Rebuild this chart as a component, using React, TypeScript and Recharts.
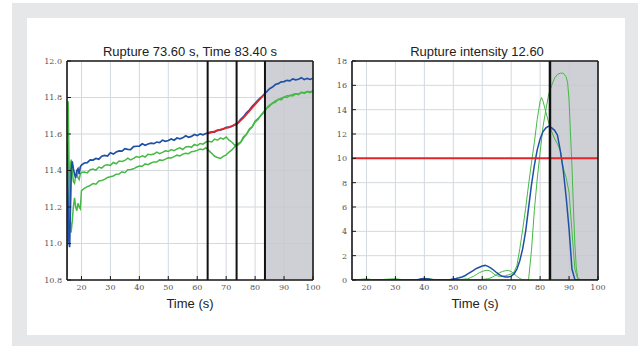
import React from 'react';
import { LineChart, Line, XAxis, YAxis, CartesianGrid, ReferenceArea, ReferenceLine } from 'recharts';

// ---------- data ----------
const xTicks = [20, 30, 40, 50, 60, 70, 80, 90, 100];
const leftYTicks = [10.8, 11.0, 11.2, 11.4, 11.6, 11.8, 12.0];
const rightYTicks = [0, 2, 4, 6, 8, 10, 12, 14, 16, 18];
const markerTimes = [63.6, 73.6, 83.4];
const currentTime = 83.4;
const endTime = 100;
const intensityThreshold = 10;
const leftTitle = 'Rupture 73.60 s, Time 83.40 s';
const rightTitle = 'Rupture intensity 12.60';
const xLabel = 'Time (s)';

const blueLeft: [number, number][] = [
  [15, 11.55], [15.3, 11.28], [15.6, 11.02], [15.9, 10.98], [16.2, 11.2], [16.5, 11.41], [16.8, 11.45],
  [17.2, 11.41], [17.6, 11.38], [18, 11.36], [18.4, 11.4], [18.8, 11.41], [19.2, 11.38], [19.6, 11.42],
  [20, 11.43], [21, 11.441], [22, 11.443], [23, 11.458], [24, 11.457], [25, 11.466], [26, 11.462],
  [27, 11.478], [28, 11.483], [29, 11.479], [30, 11.497], [31, 11.49], [32, 11.501], [33, 11.507],
  [34, 11.506], [35, 11.52], [36, 11.516], [37, 11.514], [38, 11.531], [39, 11.533], [40, 11.534],
  [41, 11.546], [42, 11.538], [43, 11.545], [44, 11.55], [45, 11.547], [46, 11.556], [47, 11.553],
  [48, 11.566], [49, 11.56], [50, 11.564], [51, 11.573], [52, 11.566], [53, 11.578], [54, 11.574],
  [55, 11.579], [56, 11.59], [57, 11.582], [58, 11.587], [59, 11.597], [60, 11.592], [61, 11.601],
  [62, 11.596], [63, 11.603], [64, 11.608], [65, 11.612], [66, 11.61], [67, 11.622], [68, 11.623],
  [69, 11.626], [70, 11.637], [71, 11.636], [72, 11.642], [73, 11.652], [74, 11.66], [75, 11.68],
  [76, 11.695], [77, 11.716], [78, 11.731], [79, 11.752], [80, 11.768], [81, 11.786], [82, 11.8],
  [83, 11.815], [84, 11.832], [85, 11.848], [86, 11.857], [87, 11.871], [88, 11.876], [89, 11.886],
  [90, 11.887], [91, 11.894], [92, 11.891], [93, 11.902], [94, 11.897], [95, 11.9], [96, 11.908],
  [97, 11.898], [98, 11.905], [99, 11.899], [100, 11.906],
];

const greenUpperLeft: [number, number][] = [
  [15, 11.5], [15.3, 11.22], [15.6, 11.12], [15.9, 11.28], [16.2, 11.44], [16.5, 11.46], [16.8, 11.4],
  [17.2, 11.34], [17.6, 11.33], [18, 11.37], [18.4, 11.39], [18.8, 11.36], [19.2, 11.35], [19.6, 11.38],
  [20, 11.39], [21, 11.392], [22, 11.387], [23, 11.404], [24, 11.408], [25, 11.402], [26, 11.419],
  [27, 11.413], [28, 11.428], [29, 11.432], [30, 11.428], [31, 11.444], [32, 11.437], [33, 11.452],
  [34, 11.449], [35, 11.455], [36, 11.468], [37, 11.458], [38, 11.466], [39, 11.476], [40, 11.472],
  [41, 11.481], [42, 11.474], [43, 11.489], [44, 11.486], [45, 11.49], [46, 11.501], [47, 11.492],
  [48, 11.499], [49, 11.508], [50, 11.504], [51, 11.515], [52, 11.509], [53, 11.518], [54, 11.524],
  [55, 11.515], [56, 11.529], [57, 11.531], [58, 11.527], [59, 11.543], [60, 11.536], [61, 11.548],
  [62, 11.544], [63, 11.556], [64, 11.56], [65, 11.556], [66, 11.572], [67, 11.566], [68, 11.579],
  [69, 11.572], [70, 11.583], [71, 11.566], [72, 11.555], [73, 11.538], [74, 11.547], [75, 11.556],
  [76, 11.585], [77, 11.598], [78, 11.628], [79, 11.64], [80, 11.671], [81, 11.684], [82, 11.703],
  [83, 11.722], [84, 11.742], [85, 11.758], [86, 11.768], [87, 11.781], [88, 11.788], [89, 11.796],
  [90, 11.802], [91, 11.81], [92, 11.809], [93, 11.817], [94, 11.821], [95, 11.819], [96, 11.829],
  [97, 11.826], [98, 11.833], [99, 11.831], [100, 11.838],
];

const greenLowerLeft: [number, number][] = [
  [15, 10.82], [15.2, 11.4], [15.4, 11.78], [15.7, 11.45], [16, 11.15], [16.4, 11.06], [16.8, 11.12],
  [17.2, 11.2], [17.6, 11.25], [18, 11.2], [18.4, 11.18], [18.8, 11.22], [19.2, 11.2], [19.6, 11.19],
  [20, 11.29], [21, 11.302], [22, 11.312], [23, 11.318], [24, 11.329], [25, 11.325], [26, 11.343],
  [27, 11.345], [28, 11.351], [29, 11.362], [30, 11.366], [31, 11.37], [32, 11.38], [33, 11.381],
  [34, 11.393], [35, 11.388], [36, 11.404], [37, 11.406], [38, 11.409], [39, 11.418], [40, 11.424],
  [41, 11.423], [42, 11.436], [43, 11.432], [44, 11.441], [45, 11.447], [46, 11.446], [47, 11.458],
  [48, 11.455], [49, 11.462], [50, 11.47], [51, 11.469], [52, 11.476], [53, 11.484], [54, 11.48],
  [55, 11.49], [56, 11.494], [57, 11.492], [58, 11.503], [59, 11.505], [60, 11.51], [61, 11.518],
  [62, 11.514], [63, 11.525], [64, 11.509], [65, 11.494], [66, 11.478], [67, 11.471], [68, 11.466],
  [69, 11.477], [70, 11.486], [71, 11.501], [72, 11.513], [73, 11.531], [74, 11.539], [75, 11.553],
  [76, 11.578], [77, 11.598], [78, 11.622], [79, 11.64], [80, 11.665], [81, 11.68], [82, 11.702],
  [83, 11.718], [84, 11.74], [85, 11.752], [86, 11.77], [87, 11.774], [88, 11.79], [89, 11.787],
  [90, 11.803], [91, 11.8], [92, 11.812], [93, 11.808], [94, 11.82], [95, 11.816], [96, 11.828],
  [97, 11.822], [98, 11.832], [99, 11.827], [100, 11.835],
];

const redFitLeft: [number, number][] = [
  [63.6, 11.602], [66, 11.614], [68.6, 11.627], [71, 11.638], [73.6, 11.653],
  [76, 11.69], [78.5, 11.735], [81, 11.78], [83.4, 11.822],
];

const blueRight: [number, number][] = [
  [15, 0], [20, 0], [25, 0], [30, 0], [35, 0], [37, 0], [38, 0.05], [39, 0.1], [40, 0.13], [41, 0.1],
  [42, 0.06], [43, 0.03], [45, 0.02], [47, 0.03], [49, 0.05], [50, 0.08], [51, 0.12], [52, 0.18],
  [53, 0.25], [54, 0.35], [55, 0.5], [56, 0.65], [57, 0.8], [58, 0.95], [59, 1.05], [60, 1.15],
  [61, 1.2], [62, 1.12], [63, 0.98], [64, 0.8], [65, 0.6], [66, 0.42], [67, 0.3], [68, 0.25],
  [69, 0.25], [70, 0.32], [71, 0.5], [72, 0.9], [73, 1.6], [74, 2.6], [75, 4.0], [76, 5.9],
  [77, 7.8], [78, 9.4], [79, 10.7], [80, 11.6], [81, 12.2], [82, 12.5], [83, 12.65], [84, 12.5],
  [85, 12.3], [86, 11.9], [87, 10.6], [88, 9.0], [89, 6.8], [90, 4.2], [91, 0.9], [92, 0.05],
  [93, 0], [100, 0],
];

const greenRightA: [number, number][] = [
  [15, 0.02], [18, 0.05], [20, 0.1], [22, 0.02], [25, 0.03], [28, 0.08], [30, 0.1], [32, 0.04],
  [35, 0.02], [38, 0.04], [40, 0.1], [41, 0.12], [43, 0.05], [46, 0.03], [50, 0.02], [53, 0.05],
  [55, 0.1], [56, 0.2], [57, 0.3], [58, 0.45], [59, 0.6], [60, 0.7], [61, 0.78], [62, 0.8],
  [63, 0.7], [64, 0.5], [65, 0.35], [66, 0.3], [67, 0.3], [68, 0.35], [69, 0.42], [70, 0.5],
  [71, 0.65], [72, 1.2], [73, 2.6], [74, 4.2], [75, 5.9], [76, 7.8], [77, 9.6], [78, 11.3],
  [79, 13.2], [80, 14.7], [80.5, 15.0], [81, 14.7], [82, 13.8], [83, 12.9], [84, 12.2], [85, 11.6],
  [86, 11.2], [87, 10.6], [88, 9.2], [89, 8.4], [90, 7.2], [91, 4.0], [92, 0.9], [93, 0.1],
  [94, 0], [100, 0],
];

const greenRightB: [number, number][] = [
  [15, 0], [30, 0.02], [45, 0], [55, 0.02], [60, 0.05], [62, 0.1], [63, 0.18], [64, 0.3],
  [65, 0.45], [66, 0.6], [67, 0.7], [68, 0.76], [69, 0.78], [70, 0.7], [71, 0.5], [72, 0.3],
  [73, 0.12], [74, 0.02], [75, 0], [76, 0], [77, 2.4], [78, 5.7], [79, 8.3], [80, 10.5],
  [81, 12.6], [82, 14.0], [83, 15.3], [84, 16.0], [85, 16.6], [86, 16.9], [87, 17.0], [88, 17.0],
  [89, 16.7], [89.5, 16.2], [90, 14.8], [90.5, 12.0], [91, 9.4], [91.5, 6.0], [92, 3.0],
  [92.5, 1.0], [93, 0.2], [94, 0], [100, 0],
];

// ---------- styling ----------
const BLUE = '#1f4fa6';
const GREEN = '#46b946';
const RED = '#e3242b';
const FRAME = '#1a1a1a';
const tickStyle = { fill: '#555', fontSize: 8, fontFamily: 'DejaVu Serif' };
const toRows = (pairs: [number, number][]) => pairs.map(([t, v]) => ({ t, v }));

function frameAxes(yDomain: [number, number], yTicks: number[], fmt: (v: number) => string) {
  const line = { stroke: FRAME, strokeWidth: 1.6 };
  const tl = { stroke: FRAME, strokeWidth: 1 };
  return [
    <XAxis key="xb" type="number" dataKey="t" domain={[15, endTime]} ticks={xTicks} interval={0}
      allowDataOverflow height={20} tickSize={-4} tickMargin={8} axisLine={line} tickLine={tl} tick={tickStyle} />,
    <XAxis key="xt" xAxisId="top" orientation="top" type="number" dataKey="t" domain={[15, endTime]} ticks={xTicks}
      interval={0} allowDataOverflow height={1} tickSize={-4} axisLine={line} tickLine={tl} tick={false} />,
    <YAxis key="yl" type="number" domain={yDomain} ticks={yTicks} interval={0} allowDataOverflow width={30}
      tickSize={-4} tickMargin={9} axisLine={line} tickLine={tl} tick={tickStyle} tickFormatter={fmt} />,
    <YAxis key="yr" yAxisId="right" orientation="right" type="number" domain={yDomain} ticks={yTicks}
      interval={0} allowDataOverflow width={1} tickSize={-4} axisLine={line} tickLine={tl} tick={false} />,
  ];
}

const textBase: React.CSSProperties = {
  position: 'absolute', fontFamily: '"Liberation Sans", Arial, sans-serif', fontSize: 13,
  lineHeight: '13px', color: '#222', textAlign: 'center', whiteSpace: 'nowrap',
};

export default function App() {
  return (
    <div style={{ position: 'absolute', left: 0, top: 0, width: 638, height: 346, background: '#fff', overflow: 'hidden' }}>
      <div style={{ position: 'absolute', left: 12, top: 3, width: 640, height: 360, background: '#e6e7e9' }} />
      <div style={{ position: 'absolute', left: 27, top: 18, width: 598, height: 317, background: '#fff' }} />

      <div style={{ position: 'absolute', left: 0, top: 0 }}>
        <LineChart width={330} height={346} margin={{ top: 60, right: 16, bottom: 46, left: 37 }}>
          <CartesianGrid stroke="#d3d9df" strokeWidth={1} />
          <ReferenceArea x1={currentTime} x2={endTime} fill="#c5c8ce" fillOpacity={0.85} stroke="none" ifOverflow="hidden" />
          {frameAxes([10.8, 12.0], leftYTicks, (v: number) => v.toFixed(1))}
          <Line data={toRows(greenLowerLeft)} dataKey="v" stroke={GREEN} strokeWidth={1.5} dot={false} isAnimationActive={false} />
          <Line data={toRows(greenUpperLeft)} dataKey="v" stroke={GREEN} strokeWidth={1.5} dot={false} isAnimationActive={false} />
          <Line data={toRows(blueLeft)} dataKey="v" stroke={BLUE} strokeWidth={1.7} dot={false} isAnimationActive={false} />
          <Line data={toRows(redFitLeft)} dataKey="v" stroke={RED} strokeWidth={1.8} dot={false} isAnimationActive={false} />
          {markerTimes.map((m) => (
            <ReferenceLine key={m} x={m} stroke="#111" strokeWidth={2} />
          ))}
        </LineChart>
      </div>

      <div style={{ position: 'absolute', left: 320, top: 0 }}>
        <LineChart width={318} height={346} margin={{ top: 60, right: 39, bottom: 46, left: 2 }}>
          <CartesianGrid stroke="#d3d9df" strokeWidth={1} />
          <ReferenceArea x1={currentTime} x2={endTime} fill="#c5c8ce" fillOpacity={0.85} stroke="none" ifOverflow="hidden" />
          {frameAxes([0, 18], rightYTicks, (v: number) => String(v))}
          <Line data={toRows(greenRightA)} dataKey="v" stroke={GREEN} strokeWidth={1} dot={false} isAnimationActive={false} />
          <Line data={toRows(greenRightB)} dataKey="v" stroke={GREEN} strokeWidth={1} dot={false} isAnimationActive={false} />
          <Line data={toRows(blueRight)} dataKey="v" stroke={BLUE} strokeWidth={1.5} dot={false} isAnimationActive={false} />
          <ReferenceLine y={intensityThreshold} stroke={RED} strokeWidth={2} />
          <ReferenceLine x={currentTime} stroke="#111" strokeWidth={2.5} />
        </LineChart>
      </div>

      <div style={{ ...textBase, left: 90, width: 200, top: 45 }}>{leftTitle}</div>
      <div style={{ ...textBase, left: 377, width: 200, top: 45 }}>{rightTitle}</div>
      <div style={{ ...textBase, left: 140, width: 100, top: 297 }}>{xLabel}</div>
      <div style={{ ...textBase, left: 425, width: 100, top: 297 }}>{xLabel}</div>
    </div>
  );
}
